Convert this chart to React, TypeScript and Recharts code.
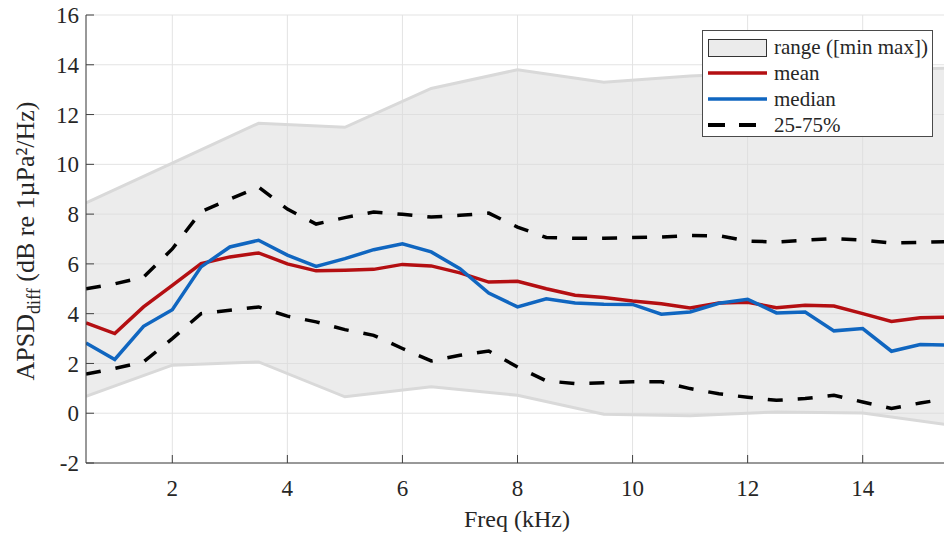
import React from "react";
import {
  ComposedChart,
  Area,
  Line,
  XAxis,
  YAxis,
  CartesianGrid,
  Legend,
} from "recharts";

// frequency grid (kHz) for mean / median / quartiles
const freq = [
  0.5, 1, 1.5, 2, 2.5, 3, 3.5, 4, 4.5, 5, 5.5, 6, 6.5, 7, 7.5, 8,
  8.5, 9, 9.5, 10, 10.5, 11, 11.5, 12, 12.5, 13, 13.5, 14, 14.5, 15, 15.5,
];
const meanVals = [
  3.63, 3.2, 4.27, 5.14, 6.01, 6.28, 6.44, 6.0, 5.72, 5.74, 5.78, 5.98, 5.92, 5.64, 5.27, 5.3,
  5.0, 4.74, 4.65, 4.51, 4.4, 4.23, 4.43, 4.46, 4.24, 4.34, 4.31, 4.0, 3.69, 3.84, 3.86,
];
const medianVals = [
  2.82, 2.16, 3.49, 4.16, 5.88, 6.68, 6.95, 6.35, 5.9, 6.21, 6.57, 6.81, 6.48, 5.81, 4.83, 4.27,
  4.6, 4.43, 4.38, 4.37, 3.98, 4.07, 4.42, 4.58, 4.03, 4.07, 3.31, 3.4, 2.49, 2.76, 2.74,
];
const q75Vals = [
  5.0, 5.2, 5.47, 6.6, 8.1, 8.6, 9.09, 8.2, 7.6, 7.86, 8.08, 7.99, 7.88, 7.95, 8.04, 7.48,
  7.06, 7.03, 7.03, 7.06, 7.08, 7.14, 7.13, 6.92, 6.88, 6.95, 7.02, 6.95, 6.84, 6.86, 6.9,
];
const q25Vals = [
  1.57, 1.8, 2.06, 3.0, 4.0, 4.14, 4.27, 3.9, 3.67, 3.36, 3.13, 2.6, 2.1, 2.33, 2.5, 1.86,
  1.3, 1.19, 1.22, 1.26, 1.26, 0.99, 0.78, 0.64, 0.52, 0.59, 0.72, 0.45, 0.19, 0.41, 0.6,
];

// min/max envelope is sampled coarser
const rangeFreq = [0.5, 2, 3.5, 5, 6.5, 8, 9.5, 11, 12.5, 14, 15.5];
const rangeMin = [0.68, 1.93, 2.06, 0.66, 1.06, 0.72, -0.04, -0.1, 0.05, 0.01, -0.47];
const rangeMax = [8.45, 10.05, 11.65, 11.49, 13.05, 13.8, 13.3, 13.55, 13.7, 13.8, 13.86];

const xTicks = [2, 4, 6, 8, 10, 12, 14];
const yTicks = [-2, 0, 2, 4, 6, 8, 10, 12, 14, 16];

const stats = freq.map((f, i) => ({
  f,
  mean: meanVals[i],
  median: medianVals[i],
  q75: q75Vals[i],
  q25: q25Vals[i],
}));
const envelope = rangeFreq.map((f, i) => ({
  f,
  lo: rangeMin[i],
  hi: rangeMax[i],
  range: [rangeMin[i], rangeMax[i]],
}));

const SERIF = "Liberation Serif, Times New Roman, serif";
const TEXT = "#262626";
const RED = "#b40f12";
const BLUE = "#1066c0";
const BAND = "#d9d9d9";
const DASH = "15 15";

const legendRows = [
  { key: "range", label: "range ([min max])" },
  { key: "mean", label: "mean" },
  { key: "median", label: "median" },
  { key: "q", label: "25-75%" },
];

const LegendBox = () => (
  <div
    style={{
      width: 231,
      height: 107,
      boxSizing: "border-box",
      border: "1px solid #4a4a4a",
      background: "#fff",
      paddingTop: 3,
      fontFamily: SERIF,
      fontSize: 21,
      color: TEXT,
    }}
  >
    {legendRows.map((r) => (
      <div key={r.key} style={{ display: "flex", alignItems: "center", height: 26 }}>
        <svg width={71} height={26} style={{ flex: "none" }}>
          {r.key === "range" && (
            <rect x={5.5} y={5.5} width={58} height={17} fill="#ebebeb" stroke="#333" />
          )}
          {r.key === "mean" && <line x1={5} x2={64} y1={13} y2={13} stroke={RED} strokeWidth={3.5} />}
          {r.key === "median" && <line x1={5} x2={64} y1={13} y2={13} stroke={BLUE} strokeWidth={3.5} />}
          {r.key === "q" && (
            <line x1={5} x2={64} y1={13} y2={13} stroke="#000" strokeWidth={4} strokeDasharray="17 14" />
          )}
        </svg>
        <span style={{ lineHeight: "26px", whiteSpace: "nowrap" }}>{r.label}</span>
      </div>
    ))}
  </div>
);

const YLabel = () => (
  <text
    transform="translate(34,241) rotate(-90)"
    textAnchor="middle"
    fontFamily={SERIF}
    fontSize={26}
    fill={TEXT}
  >
    APSD
    <tspan fontSize={18} dy={6}>diff</tspan>
    <tspan dy={-6}> (dB re 1µPa²/Hz)</tspan>
  </text>
);

const XLabel = () => (
  <text x={517} y={527} textAnchor="middle" fontFamily={SERIF} fontSize={24} fill={TEXT}>
    Freq (kHz)
  </text>
);

export default function App() {
  return (
    <div style={{ position: "absolute", left: 0, top: 0, width: 944, height: 534, overflow: "hidden", background: "#fff" }}>
      <ComposedChart width={951} height={534} margin={{ top: 15, right: 2, bottom: 0, left: 0 }}>
        <CartesianGrid stroke="#e3e3e3" strokeWidth={1} />
        <XAxis
          type="number"
          dataKey="f"
          domain={[0.5, 15.5]}
          ticks={xTicks}
          allowDataOverflow
          height={71}
          tickSize={-8}
          tickMargin={25}
          stroke="#404040"
          tick={{ fill: TEXT, fontFamily: SERIF, fontSize: 23 }}
          label={{ content: () => <XLabel /> }}
        />
        <YAxis
          type="number"
          domain={[-2, 16]}
          ticks={yTicks}
          allowDataOverflow
          width={86}
          tickSize={-8}
          tickMargin={15}
          stroke="#404040"
          tick={{ fill: TEXT, fontFamily: SERIF, fontSize: 23 }}
          label={{ content: () => <YLabel /> }}
        />
        <Area
          data={envelope}
          dataKey="range"
          type="linear"
          stroke="none"
          fill={BAND}
          fillOpacity={0.5}
          isAnimationActive={false}
          legendType="none"
        />
        <Line data={envelope} dataKey="hi" type="linear" stroke={BAND} strokeWidth={3} dot={false} isAnimationActive={false} legendType="none" />
        <Line data={envelope} dataKey="lo" type="linear" stroke={BAND} strokeWidth={3} dot={false} isAnimationActive={false} legendType="none" />
        <Line data={stats} dataKey="q75" type="linear" stroke="#000" strokeWidth={3.5} strokeDasharray={DASH} dot={false} isAnimationActive={false} />
        <Line data={stats} dataKey="q25" type="linear" stroke="#000" strokeWidth={3.5} strokeDasharray={DASH} dot={false} isAnimationActive={false} />
        <Line data={stats} dataKey="mean" type="linear" stroke={RED} strokeWidth={3.5} dot={false} isAnimationActive={false} />
        <Line data={stats} dataKey="median" type="linear" stroke={BLUE} strokeWidth={3.5} dot={false} isAnimationActive={false} />
        <Legend
          layout="vertical"
          align="center"
          verticalAlign="middle"
          wrapperStyle={{ left: 702, top: 30, width: 231, height: 107 }}
          content={() => <LegendBox />}
        />
      </ComposedChart>
    </div>
  );
}
